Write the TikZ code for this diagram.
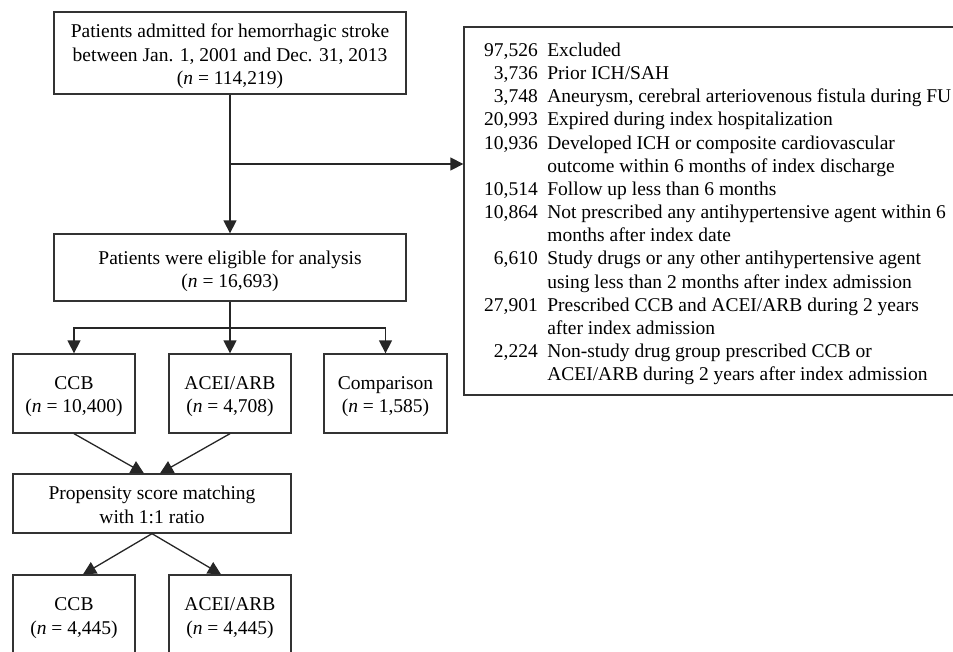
\documentclass[tikz,border=0pt]{standalone}
\usepackage{fontspec}
\setmainfont{Liberation Serif}
\usetikzlibrary{arrows.meta,calc}
\begin{document}
\begin{tikzpicture}[x=1pt,y=-1pt,
  box/.style={draw=black!80, line width=1.3pt, inner sep=0pt},
  txt/.style={align=center, inner sep=0pt, font=\fontsize{19.5}{23.5}\selectfont},
  arr/.style={line width=1.3pt, draw=black!85, -{Triangle[length=13pt,width=13pt]}},
  ln/.style={line width=1.3pt, draw=black!85}]
\useasboundingbox (0,0) rectangle (953,651);
\clip (0,0) rectangle (953,651);
\node[box, minimum width=352pt, minimum height=82pt] (adm) at (230,53) {};
\node[txt] (admt) at ($(adm.center)+(0,3.5)$) {Patients admitted for hemorrhagic stroke\\between Jan. 1, 2001 and Dec. 31, 2013\\(\textit{n} = 114,219)};
\node[box, minimum width=352pt, minimum height=67pt] (elig) at (230,267.5) {};
\node[txt] (eligt) at ($(elig.center)+(0,3.5)$) {Patients were eligible for analysis\\(\textit{n} = 16,693)};
\node[box, minimum width=122pt, minimum height=79pt] (ccb) at (74,393.5) {};
\node[txt] (ccbt) at ($(ccb.center)+(0,3)$) {CCB\\(\textit{n} = 10,400)};
\node[box, minimum width=122pt, minimum height=79pt] (acei) at (230,393.5) {};
\node[txt] (aceit) at ($(acei.center)+(0,3)$) {ACEI/ARB\\(\textit{n} = 4,708)};
\node[box, minimum width=123pt, minimum height=79pt] (comp) at (385.5,393.5) {};
\node[txt] (compt) at ($(comp.center)+(0,3)$) {Comparison\\(\textit{n} = 1,585)};
\node[box, minimum width=278pt, minimum height=59pt] (prop) at (152,503.5) {};
\node[txt] (propt) at ($(prop.center)+(0,1.5)$) {Propensity score matching\\with 1:1 ratio};
\node[box, minimum width=122pt, minimum height=82pt] (ccbm) at (74,616) {};
\node[txt] (ccbmt) at ($(ccbm.center)+(0,2)$) {CCB\\(\textit{n} = 4,445)};
\node[box, minimum width=122pt, minimum height=82pt] (aceim) at (230,616) {};
\node[txt] (aceimt) at ($(aceim.center)+(0,2)$) {ACEI/ARB\\(\textit{n} = 4,445)};
\node[box, minimum width=506pt, minimum height=368pt] (excl) at (717,211) {};
\node[anchor=base west, inner sep=0pt, font=\fontsize{19.5}{23.15}\selectfont] (excltext) at (484,56.5) {\begin{tabular}[t]{@{}r@{\hspace{9.5pt}}l@{}}
97,526 & Excluded\\
3,736 & Prior ICH/SAH\\
3,748 & Aneurysm, cerebral arteriovenous fistula during FU\\
20,993 & Expired during index hospitalization\\
10,936 & Developed ICH or composite cardiovascular\\
 & outcome within 6 months of index discharge\\
10,514 & Follow up less than 6 months\\
10,864 & Not prescribed any antihypertensive agent within 6\\
 & months after index date\\
6,610 & Study drugs or any other antihypertensive agent\\
 & using less than 2 months after index admission\\
27,901 & Prescribed CCB and ACEI/ARB during 2 years\\
 & after index admission\\
2,224 & Non-study drug group prescribed CCB or\\
 & ACEI/ARB during 2 years after index admission
\end{tabular}};
\draw[arr] (adm.south) -- (elig.north);
\coordinate (br) at (230,164);
\draw[arr] (br) -- (br -| excl.west);
\coordinate (sp) at (230,328);
\draw[ln] (elig.south) -- (sp);
\draw[arr] (sp) -| (ccb.north);
\draw[arr] (sp) -| (comp.north);
\draw[arr] (sp) -- (acei.north);
\draw[arr] (ccb.south) -- ($(prop.north)+(-8,0)$);
\draw[arr] (acei.south) -- ($(prop.north)+(8,0)$);
\draw[arr] (prop.south) -- ($(ccbm.north)+(9,0)$);
\draw[arr] (prop.south) -- ($(aceim.north)+(-9,0)$);
\end{tikzpicture}
\end{document}
